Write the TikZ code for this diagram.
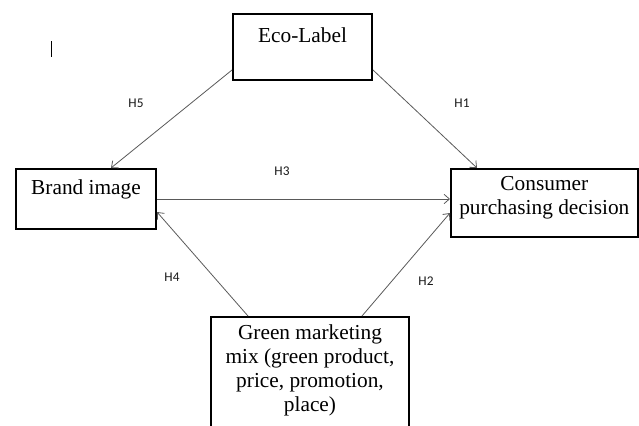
\documentclass[tikz,border=0pt]{standalone}
\usepackage{fontspec}
\setmainfont{Liberation Serif}
\newfontfamily\hypfont{Carlito}
\usetikzlibrary{positioning, calc, arrows.meta}

\begin{document}
\begin{tikzpicture}[
    x=0.75pt, y=-0.75pt,
    >={Straight Barb[length=4pt, width=7pt]},
    construct/.style={draw, line width=1.5pt, inner sep=0pt, align=center,
        font=\fontsize{16}{18}\selectfont, anchor=north west},
    link/.style={->, draw=black!65, line width=0.6pt},
    hyp/.style={font=\hypfont\fontsize{10}{11}\selectfont, text=black!90, inner sep=0pt}
]

\useasboundingbox (0,0) rectangle (639,425);
\clip (0,0) rectangle (639,425);

% Define nodes
\node (eco)   [construct, minimum width=104.25pt, minimum height=49.5pt] at (232,13) {Eco-Label\\\mbox{}};
\node (brand) [construct, minimum width=105pt, minimum height=45pt] at (15,168) {Brand image\\\mbox{}};
\node (cons)  [construct, minimum width=140pt, minimum height=51pt] at (450,168) {Consumer\\purchasing decision\\[-6pt]\mbox{}};
\node (green) [construct, minimum width=148.5pt, minimum height=93pt] at (210,316) {Green marketing\\mix (green product,\\price, promotion,\\place)\\[-1.5pt]\mbox{}};

% Hypothesis labels
\node (h5) [hyp] at (136,103) {H5};
\node (h1) [hyp] at (462,103) {H1};
\node (h3) [hyp] at (282,171) {H3};
\node (h4) [hyp] at (172,277) {H4};
\node (h2) [hyp] at (426,281) {H2};

% Main edges
\draw[link] ($(eco.west)+(0,23)$) -- ($(brand.north)+(25,0)$);
\draw[link] ($(eco.east)+(0,23)$) -- ($(cons.north west)+(27,0)$);
\draw[link] (brand.east) -- (brand.east -| cons.west);
\draw[link] ($(green.north west)+(38,0)$) -- ($(brand.east)+(0,13)$);
\draw[link] ($(green.north east)+(-48,0)$) -- ($(cons.west)+(0,10)$);

% stray cursor mark
\draw[line width=0.6pt] (51,41) -- (51,57);

\end{tikzpicture}
\end{document}
